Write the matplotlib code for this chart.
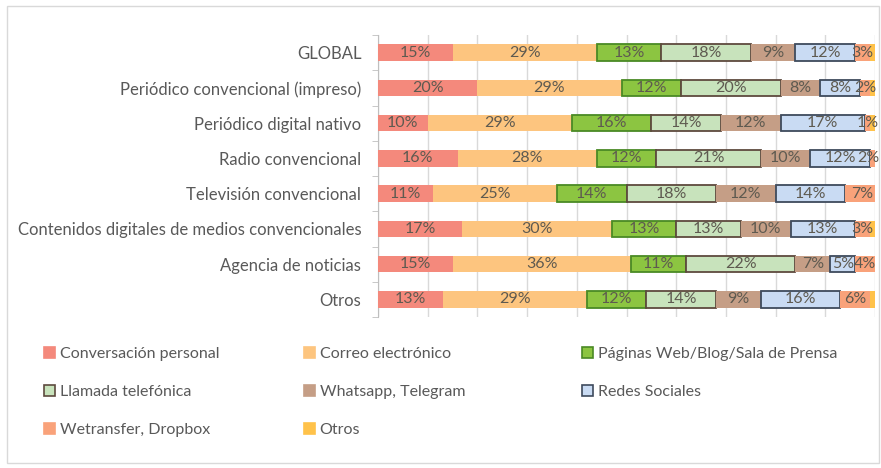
import matplotlib
matplotlib.use("Agg")
import matplotlib.pyplot as plt
from matplotlib.patches import Patch, Rectangle
import numpy as np

plt.rcParams['font.family'] = ['Lato', 'DejaVu Sans']

categories = ["GLOBAL", "Periódico convencional (impreso)", "Periódico digital nativo",
              "Radio convencional", "Televisión convencional",
              "Contenidos digitales de medios convencionales", "Agencia de noticias", "Otros"]
series_names = ["Conversación personal", "Correo electrónico", "Páginas Web/Blog/Sala de Prensa",
                "Llamada telefónica", "Whatsapp, Telegram", "Redes Sociales",
                "Wetransfer, Dropbox", "Otros"]
conversacion = [15, 20, 10, 16, 11, 17, 15, 13]
correo       = [29, 29, 29, 28, 25, 30, 36, 29]
paginas      = [13, 12, 16, 12, 14, 13, 11, 12]
llamada      = [18, 20, 14, 21, 18, 13, 22, 14]
whatsapp     = [9, 8, 12, 10, 12, 10, 7, 9]
redes        = [12, 8, 17, 12, 14, 13, 5, 16]
wetransfer   = [3, 2, 1, 2, 7, 3, 4, 6]
otros        = [1, 1, 1, 0, 0, 1, 0, 1]
series = [conversacion, correo, paginas, llamada, whatsapp, redes, wetransfer, otros]

fills = ["#F4897C", "#FDC57F", "#8CC541", "#C8E3BC", "#C59E86", "#C9DBF3", "#F9A27A", "#FFC24A"]
edges = ["none", "none", "#4A8A25", "#5E4A3E", "none", "#3E4A5C", "none", "none"]
lw    = [0, 0, 1.3, 1.3, 0, 1.3, 0, 0]

fig = plt.figure(figsize=(8.81, 4.68), dpi=100)
fig.patches.append(Rectangle((7/881, 5/468), 872/881, 457/468, transform=fig.transFigure,
                             fill=False, edgecolor="#D9D9D9", linewidth=1))
ax = fig.add_axes([378/881, 1 - 317/468, 497/881, 282/468])

y = np.arange(len(categories))
left = np.zeros(len(categories))
for i, (vals, fc, ec, w) in enumerate(zip(series, fills, edges, lw)):
    vals = np.array(vals, dtype=float)
    bars = ax.barh(y, vals, left=left, height=0.47, color=fc, edgecolor=ec, linewidth=w,
                   label=series_names[i], zorder=3)
    if i < 7:
        for b, v in zip(bars, vals):
            if v > 0:
                xc = min(b.get_x() + b.get_width() / 2, 98.6)
                ax.text(xc, b.get_y() + b.get_height() / 2,
                        f"{int(v)}%", ha="center", va="center", fontsize=11.5,
                        color="#5E5A50", zorder=4)
    left += vals

ax.set_xlim(0, 100)
ax.set_ylim(len(categories) - 0.5, -0.5)
ax.set_xticks(np.arange(0, 101, 10))
ax.set_xticklabels([])
ax.tick_params(axis="x", length=0)
ax.set_yticks(y)
ax.set_yticklabels(categories, fontsize=12, color="#595959")
ax.set_yticks(np.arange(-0.5, len(categories), 1), minor=True)
ax.tick_params(axis="y", which="major", length=0, pad=12)
ax.tick_params(axis="y", which="minor", length=4, color="#BFBFBF")
ax.grid(axis="x", color="#D9D9D9", linewidth=1, zorder=0)
for s in ["top", "right", "bottom"]:
    ax.spines[s].set_visible(False)
ax.spines["left"].set_color("#BFBFBF")

handles = [Patch(facecolor=fills[i], edgecolor=(edges[i] if edges[i] != "none" else fills[i]),
                 linewidth=1.2, label=series_names[i]) for i in range(8)]
cols = [[0, 3, 6], [1, 4, 7], [2, 5]]
xs = [38, 298, 576]
for xpos, idx in zip(xs, cols):
    fig.legend([handles[k] for k in idx], [series_names[k] for k in idx],
               loc="upper left", bbox_to_anchor=(xpos / 881, 1 - 341 / 468),
               frameon=False, fontsize=11.5, labelcolor="#595959",
               handlelength=0.65, handleheight=0.65, handletextpad=0.3,
               labelspacing=1.5, borderaxespad=0)

fig.savefig("out.png", dpi=100)
